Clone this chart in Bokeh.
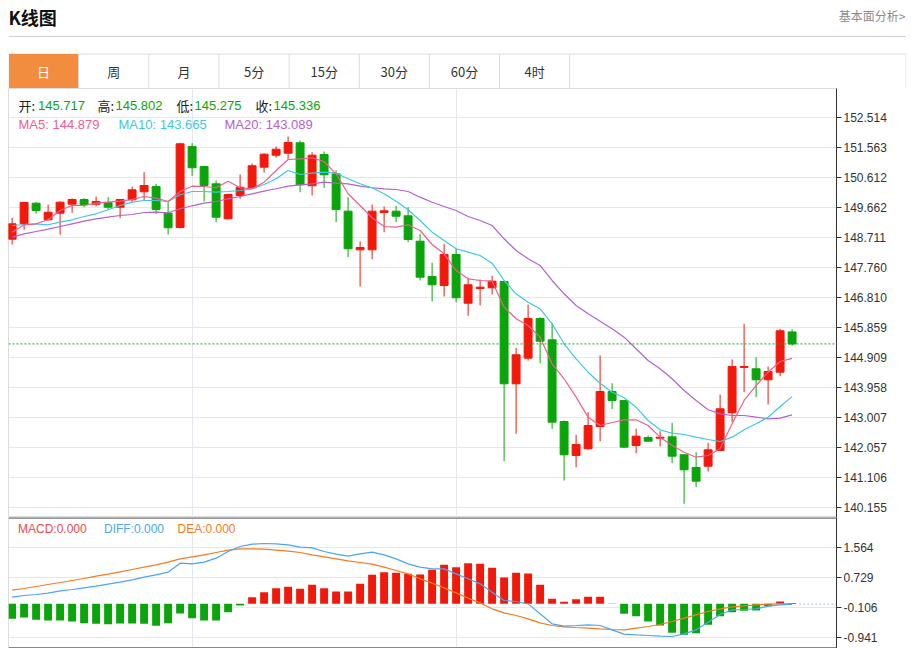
from bokeh.plotting import figure
from bokeh.models import Range1d, FixedTicker, NumeralTickFormatter, Grid, Span, Label
from bokeh.layouts import column
from bokeh.embed import file_html
from bokeh.resources import INLINE
from bokeh.core.properties import value

# ---------------- data ----------------
tabs = ["日", "周", "月", "5分", "15分", "30分", "60分", "4时"]

opens = [148.656, 149.144, 149.797, 149.271, 149.480, 149.766, 149.915, 149.766, 149.820, 149.671,
         149.905, 150.159, 150.327, 149.480, 149.027, 151.595, 150.961, 150.412, 149.303, 150.041,
         150.286, 150.939, 151.319, 151.383, 151.712, 150.349, 151.341, 150.729, 149.544, 148.320,
         148.320, 149.503, 149.544, 149.398, 148.593, 147.474, 147.188, 148.171, 146.627, 147.093,
         147.116, 147.315, 144.072, 144.884, 146.142, 145.467, 142.877, 141.799, 142.012, 142.719,
         143.828, 143.543, 142.116, 142.370, 142.348, 142.392, 141.822, 141.419, 141.460, 141.958,
         143.153, 144.589, 144.548, 144.199, 144.440, 145.717]
highs = [149.335, 149.842, 149.829, 149.756, 149.861, 149.946, 149.956, 150.010, 149.988, 149.924,
         150.327, 150.780, 150.412, 149.829, 151.712, 151.700, 150.980, 150.517, 150.095, 150.707,
         151.056, 151.383, 151.595, 151.912, 151.785, 151.414, 151.436, 150.834, 149.988, 148.593,
         149.756, 149.693, 149.715, 149.671, 148.827, 147.908, 148.510, 148.352, 147.433, 147.379,
         147.496, 147.330, 145.214, 146.577, 146.180, 145.993, 142.909, 142.456, 143.172, 144.969,
         144.091, 143.560, 142.646, 142.433, 142.570, 142.836, 141.840, 141.904, 142.202, 143.733,
         144.843, 145.974, 144.916, 144.621, 145.816, 145.802]
lows = [148.488, 148.954, 149.461, 149.250, 148.796, 149.493, 149.671, 149.693, 149.588, 149.322,
        149.829, 149.883, 149.461, 148.805, 149.000, 150.666, 149.851, 149.195, 149.280, 149.937,
        150.270, 150.771, 151.237, 151.205, 150.146, 150.041, 150.286, 149.195, 148.086, 147.157,
        148.022, 148.878, 149.195, 148.561, 147.347, 146.681, 146.840, 146.659, 146.228, 146.554,
        146.903, 141.619, 142.487, 144.811, 144.725, 142.646, 141.007, 141.429, 141.990, 142.253,
        143.267, 142.040, 141.872, 142.240, 142.085, 141.555, 140.268, 140.795, 141.292, 141.940,
        142.855, 143.806, 143.648, 143.416, 144.313, 145.275]
closes = [149.144, 149.820, 149.566, 149.512, 149.829, 149.915, 149.756, 149.851, 149.671, 149.915,
          150.222, 150.358, 149.598, 149.018, 151.680, 150.920, 150.358, 149.354, 150.073, 150.305,
          150.983, 151.351, 151.509, 151.722, 150.381, 151.319, 150.698, 149.598, 148.352, 148.393,
          149.544, 149.556, 149.385, 148.647, 147.452, 147.211, 148.171, 146.799, 147.211, 147.135,
          147.325, 144.072, 144.992, 146.142, 145.423, 142.855, 141.822, 142.148, 142.750, 143.828,
          143.543, 142.063, 142.411, 142.253, 142.380, 141.777, 141.346, 140.985, 141.980, 143.280,
          144.621, 144.621, 144.199, 144.462, 145.752, 145.336]

ma5 = [148.878, 149.113, 149.144, 149.271, 149.566, 149.725, 149.725, 149.797, 149.829, 149.861,
       149.915, 150.010, 149.956, 149.851, 150.168, 150.336, 150.327, 150.286, 150.495, 150.286,
       150.254, 150.463, 150.834, 151.183, 151.205, 151.237, 151.119, 150.729, 150.095, 149.725,
       149.335, 149.059, 149.037, 149.113, 148.932, 148.488, 148.193, 147.664, 147.401, 147.347,
       147.325, 146.501, 146.133, 145.920, 145.550, 144.706, 144.231, 143.648, 143.014, 142.750,
       142.846, 142.931, 142.931, 142.750, 142.380, 142.116, 141.904, 141.746, 141.799, 142.012,
       142.804, 143.543, 144.018, 144.440, 144.779, 144.879]
ma10 = [149.091, 149.122, 149.144, 149.113, 149.195, 149.271, 149.376, 149.461, 149.588, 149.725,
        149.829, 149.883, 149.883, 149.851, 150.064, 150.168, 150.168, 150.146, 150.168, 150.200,
        150.254, 150.390, 150.571, 150.834, 150.707, 150.748, 150.780, 150.748, 150.571, 150.412,
        150.286, 150.095, 149.861, 149.588, 149.249, 148.878, 148.615, 148.352, 148.244, 148.140,
        147.895, 147.347, 146.925, 146.659, 146.450, 145.974, 145.340, 144.865, 144.440, 144.091,
        143.806, 143.629, 143.331, 142.909, 142.614, 142.506, 142.465, 142.380, 142.307, 142.243,
        142.380, 142.614, 142.804, 143.014, 143.353, 143.665]
ma20 = [148.720, 148.827, 148.900, 148.973, 149.059, 149.144, 149.227, 149.303, 149.354, 149.408,
        149.439, 149.503, 149.512, 149.493, 149.620, 149.715, 149.797, 149.851, 149.937, 150.010,
        150.095, 150.178, 150.254, 150.336, 150.381, 150.412, 150.463, 150.431, 150.412, 150.336,
        150.286, 150.254, 150.232, 150.168, 149.988, 149.829, 149.693, 149.566, 149.376, 149.249,
        149.091, 148.669, 148.298, 148.035, 147.823, 147.347, 146.925, 146.555, 146.291, 146.057,
        145.816, 145.550, 145.182, 144.811, 144.548, 144.231, 143.860, 143.543, 143.248, 143.121,
        143.068, 143.068, 143.014, 142.963, 142.982, 143.089]

macd_hist = [-0.420, -0.386, -0.450, -0.470, -0.470, -0.500, -0.545, -0.560, -0.573, -0.554,
             -0.554, -0.560, -0.620, -0.545, -0.274, -0.405, -0.470, -0.470, -0.237, -0.050,
             0.182, 0.322, 0.434, 0.473, 0.417, 0.529, 0.434, 0.341, 0.341, 0.557,
             0.808, 0.881, 0.864, 0.836, 0.817, 0.948, 1.088, 1.021, 1.133, 1.116,
             1.004, 0.733, 0.864, 0.845, 0.529, 0.137, 0.053, 0.126, 0.196, 0.196,
             -0.010, -0.283, -0.350, -0.498, -0.610, -0.815, -0.870, -0.825, -0.590, -0.350,
             -0.237, -0.200, -0.190, -0.070, 0.060, 0.020]
diff = [0.183, 0.229, 0.257, 0.295, 0.360, 0.397, 0.444, 0.490, 0.546, 0.602,
        0.668, 0.742, 0.807, 0.882, 1.134, 1.115, 1.162, 1.274, 1.460, 1.600,
        1.665, 1.684, 1.675, 1.647, 1.581, 1.563, 1.460, 1.386, 1.330, 1.395,
        1.441, 1.367, 1.255, 1.115, 1.022, 0.975, 0.975, 0.835, 0.696, 0.556,
        0.323, 0.090, 0.062, -0.004, -0.283, -0.563, -0.628, -0.610, -0.591, -0.610,
        -0.731, -0.852, -0.871, -0.889, -0.908, -0.917, -0.843, -0.731, -0.516, -0.302,
        -0.171, -0.162, -0.143, -0.069, -0.032, -0.013]
dea = [0.379, 0.425, 0.481, 0.537, 0.593, 0.649, 0.705, 0.770, 0.826, 0.891,
       0.957, 1.022, 1.087, 1.162, 1.255, 1.311, 1.367, 1.432, 1.497, 1.535,
       1.535, 1.525, 1.497, 1.469, 1.432, 1.367, 1.311, 1.255, 1.199, 1.152,
       1.106, 1.022, 0.929, 0.835, 0.696, 0.574, 0.444, 0.304, 0.155, 0.024,
       -0.143, -0.255, -0.330, -0.423, -0.535, -0.610, -0.647, -0.666, -0.684, -0.703,
       -0.721, -0.731, -0.684, -0.638, -0.582, -0.498, -0.404, -0.311, -0.218, -0.143,
       -0.087, -0.060, -0.032, -0.013, -0.004, -0.004]

price_ticks = [152.514, 151.563, 150.612, 149.662, 148.711, 147.760, 146.810, 145.859,
               144.909, 143.958, 143.007, 142.057, 141.106, 140.155]
macd_ticks = [1.564, 0.729, -0.106, -0.941]
month_marks = [15, 37]

info_open, info_high, info_low, info_close = "145.717", "145.802", "145.275", "145.336"
info_ma5, info_ma10, info_ma20 = "144.879", "143.665", "143.089"
info_macd, info_diff, info_dea = "0.000", "0.000", "0.000"

# ---------------- style ----------------
RED = "#F2190B"
GREEN = "#0AA50A"
C_MA5 = "#EE5F90"
C_MA10 = "#3CC8E0"
C_MA20 = "#B462CC"
C_DIFF = "#4DA5F0"
C_DEA = "#F47B20"
GRID = "#E3E8EE"
BORDER = "#DCDCDC"
DARK = "#333333"
CJK = "Noto Sans CJK SC"
LAT = "Liberation Sans"

M = 8               # left offset of the chart block
FW = 828            # frame width of the charts
RB = 70             # right border (axis area)
N = len(closes)
xs = list(range(N))
X0 = -0.3
X1 = X0 + FW / 12.0

HDR_H = 88
MAIN_H = 429
Y0, Y1 = 139.834, 153.433
MACD_H = 131
M0, M1 = -1.253, 2.411


def mx(sx):
    return X0 + (sx - M) / 12.0


def my(sy):
    return Y1 - (sy - HDR_H) * (Y1 - Y0) / MAIN_H


def my2(sy):
    return M1 - (sy - HDR_H - MAIN_H) * (M1 - M0) / MACD_H


# ---------------- header (page pixel coordinates) ----------------
HW = FW + RB
R = M + HW
hdr = figure(frame_width=HW, frame_height=HDR_H, x_range=Range1d(M, R), y_range=Range1d(HDR_H, 0),
             toolbar_location=None, output_backend="svg", title=None,
             x_axis_location=None, y_axis_location=None,
             min_border_left=M, min_border_right=0, min_border_top=0, min_border_bottom=0,
             outline_line_color=None, border_fill_color="white", background_fill_color="white")
hdr.grid.visible = False
hdr.text(x=[M], y=[16.5], text=["K线图"], text_font=value(CJK), text_font_size="18px",
         text_font_style="bold", text_baseline="middle", text_color="#111111")
hdr.text(x=[R - 1], y=[15], text=["基本面分析>"], text_font=value(CJK),
         text_font_size="12px", text_baseline="middle", text_align="right", text_color="#8C8C8C")
hdr.segment(x0=[M], y0=[36], x1=[R], y1=[36], line_color="#CFCFCF", line_width=1)
hdr.quad(left=[M + 0.5], right=[R - 0.5], top=[53.5], bottom=[HDR_H], fill_color="white",
         line_color=BORDER, line_width=1)
tab_w = 70.15
hdr.quad(left=[M + 0.5], right=[M + tab_w], top=[53.5], bottom=[HDR_H], fill_color="#F28C3E",
         line_color=None)
hdr.segment(x0=[M + tab_w * (k + 1) for k in range(len(tabs))], y0=[53.5] * len(tabs),
            x1=[M + tab_w * (k + 1) for k in range(len(tabs))], y1=[HDR_H] * len(tabs),
            line_color=BORDER, line_width=1)
hdr.text(x=[M + tab_w * (k + 0.5) for k in range(len(tabs))], y=[71] * len(tabs), text=tabs,
         text_font=value(CJK), text_font_size="13px", text_align="center",
         text_baseline="middle", text_color=["white"] + ["#333333"] * (len(tabs) - 1))


def style_axis(ax, ticks):
    ax.ticker = FixedTicker(ticks=ticks)
    ax.formatter = NumeralTickFormatter(format="0.000")
    ax.axis_line_color = DARK
    ax.major_tick_line_color = DARK
    ax.major_tick_out = 5
    ax.major_tick_in = 0
    ax.minor_tick_line_color = None
    ax.major_label_text_font = LAT
    ax.major_label_text_font_size = "12px"
    ax.major_label_text_color = DARK
    ax.major_label_standoff = 2


# ---------------- main candlestick chart ----------------
main = figure(frame_width=FW, frame_height=MAIN_H, x_range=Range1d(X0, X1), y_range=Range1d(Y0, Y1),
              toolbar_location=None, output_backend="svg", title=None,
              x_axis_location=None, y_axis_location="right",
              min_border_left=M, min_border_right=RB, min_border_top=0, min_border_bottom=0,
              outline_line_color=BORDER, border_fill_color="white", background_fill_color="white")
main.grid.visible = False
style_axis(main.yaxis[0], price_ticks)
main.add_layout(Grid(dimension=1, ticker=FixedTicker(ticks=price_ticks), grid_line_color=GRID))
main.add_layout(Grid(dimension=0, ticker=FixedTicker(ticks=month_marks), grid_line_color=GRID))

colors = [RED if c >= o else GREEN for o, c in zip(opens, closes)]
tops = [max(o, c) for o, c in zip(opens, closes)]
bots = [min(o, c) for o, c in zip(opens, closes)]
main.segment(x0=xs, y0=lows, x1=xs, y1=highs, line_color=colors, line_width=1)
main.vbar(x=xs, width=0.66, top=tops, bottom=bots, fill_color=colors, line_color=colors, line_width=1)

main.line(xs, ma20, line_color=C_MA20, line_width=1.2)
main.line(xs, ma10, line_color=C_MA10, line_width=1.2)
main.line(xs, ma5, line_color=C_MA5, line_width=1.2)

main.add_layout(Span(location=closes[-1], dimension="width", line_color="#17A317",
                     line_dash="2 2", line_width=1))

info = [("开:", 18, "#222222", CJK), (info_open, 37.5, GREEN, LAT),
        ("高:", 97, "#222222", CJK), (info_high, 115, GREEN, LAT),
        ("低:", 176, "#222222", CJK), (info_low, 194, GREEN, LAT),
        ("收:", 255, "#222222", CJK), (info_close, 273, GREEN, LAT)]
for t, sx, col, fnt in info:
    main.add_layout(Label(x=mx(sx), y=my(105), text=t, text_color=col, text_font=fnt,
                          text_font_size="13px", text_baseline="middle"))
for t, sx, col in [("MA5: " + info_ma5, 18, C_MA5), ("MA10: " + info_ma10, 118, C_MA10),
                   ("MA20: " + info_ma20, 224, C_MA20)]:
    main.add_layout(Label(x=mx(sx), y=my(123.5), text=t, text_color=col, text_font=LAT,
                          text_font_size="13px", text_baseline="middle"))

main.add_layout(Label(x=mx(838), y=closes[-1], text="%.3f" % closes[-1], text_color="white",
                      text_font=LAT, text_font_size="12px", text_baseline="middle",
                      background_fill_color="#14A514",
                      padding=dict(left=4, right=22, top=2, bottom=2)))

# ---------------- MACD chart ----------------
macd = figure(frame_width=FW, frame_height=MACD_H, x_range=main.x_range, y_range=Range1d(M0, M1),
              toolbar_location=None, output_backend="svg", title=None,
              x_axis_location=None, y_axis_location="right",
              min_border_left=M, min_border_right=RB, min_border_top=0, min_border_bottom=0,
              outline_line_color=BORDER, border_fill_color="white", background_fill_color="white")
macd.grid.visible = False
style_axis(macd.yaxis[0], macd_ticks)
macd.add_layout(Grid(dimension=1, ticker=FixedTicker(ticks=macd_ticks), grid_line_color=GRID))
macd.add_layout(Grid(dimension=0, ticker=FixedTicker(ticks=month_marks), grid_line_color=GRID))

hcol = [RED if v >= 0 else GREEN for v in macd_hist]
macd.vbar(x=xs, width=0.66, top=macd_hist, bottom=0, fill_color=hcol, line_color=None)
macd.line(xs, dea, line_color=C_DEA, line_width=1.2)
macd.line(xs, diff, line_color=C_DIFF, line_width=1.2)
macd.segment(x0=[xs[-1] + 0.6], y0=[diff[-1]], x1=[X1], y1=[diff[-1]], line_color="#9CCBF2",
             line_dash="2 2", line_width=1)

px = (M1 - M0) / MACD_H
macd.add_layout(Span(location=M1 - 0.5 * px, dimension="width", line_color=DARK, line_width=1))
macd.add_layout(Span(location=M0 + 0.5 * px, dimension="width", line_color=DARK, line_width=1))

for t, sx, col in [("MACD:" + info_macd, 17.5, "#F04848"), ("DIFF:" + info_diff, 103.5, C_DIFF),
                   ("DEA:" + info_dea, 177, C_DEA)]:
    macd.add_layout(Label(x=mx(sx), y=my2(528), text=t, text_color=col, text_font=LAT,
                          text_font_size="12px", text_baseline="middle"))

layout = column(hdr, main, macd, spacing=0)
open("out.html", "w").write(file_html(layout, INLINE))
